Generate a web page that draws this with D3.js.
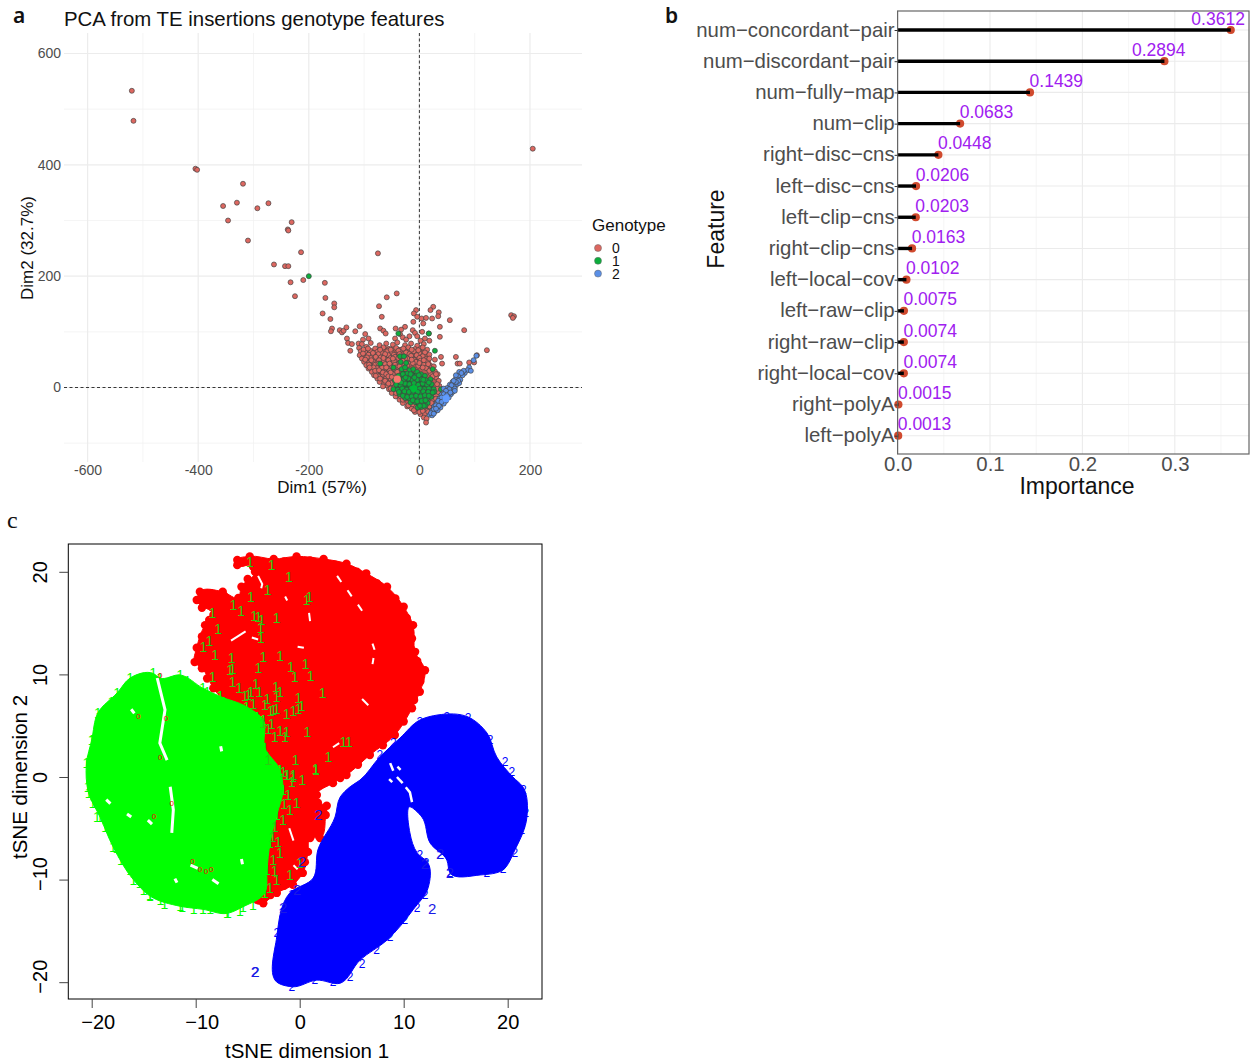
<!DOCTYPE html>
<html>
<head>
<meta charset="utf-8">
<script src="https://cdnjs.cloudflare.com/ajax/libs/d3/7.8.5/d3.min.js"></script>
<style>
body { margin: 0; background: #fff; }
text { font-family: "Liberation Sans", Arial, sans-serif; }
</style>
</head>
<body>
<div id="fig"></div>
<script>
// panel a: points, [dim1, dim2]
var pcaRed = [[-520,533],[-517,479],[-405,393],[-402,391],[-319,366],[-355,326],[-330,332],[-293,322],[-273,331],[-346,300],
[-231,297],[-238,284],[-237,282],[-310,264],[-214,243],[-75,241],[-263,221],[-243,218],[-237,218],[-210,193],[-233,189],
[-171,188],[-225,164],[-170,161],[-59,162],[-41,169],[-154,151],[-154,144],[-73,146],[-175,133],[-68,127],[-161,123],
[205,429],[166,130],[171,128],[169,125],[-158,106],[-160,101],[-144,103],[-140,99],[-137,102],[-116,101],[-108,110],[-132,108],
[-131,88],[-129,80],[-122,78],[-125,66],[-110,79],[-6,139],[-10,133],[-4,127],[-11,118],[4,124],[25,145],[20,139],[35,135],
[34,128],[23,124],[55,121],[7,115],[12,125],[37,109],[81,103],[17,97],[37,91],[-26,109],[-33,104],[-43,106],[-71,106],[-65,102],
[-61,97],[-98,96],[-92,88],[-102,86],[122,67],[104,58],[90,45],[66,55],[39,55],[41,43],[28,50],[69,43],[73,43],[99,45],
[-35,96],[-30,90],[-12,103],[-8,98],[-18,92],[-4,92],[5,100],[10,88],[-24,86],[2,84],[18,84],[-44,88],
[-104,78],[-88,80],[-72,76],[-60,79],[-48,77],[-40,81],[-26,76],[-15,79],[-4,75],[8,78],
[-109,71],[-96,73],[-80,70],[-65,72],[-55,69],[-42,71],[-33,68],[-20,72],[-8,69],[3,71],[14,68],
[-106,65],[-98,63],[-89,66],[-76,64],[-68,62],[-58,65],[-50,63],[-38,66],[-24,63],[-18,60],[-10,65],[0,62],[10,63],
[-108,58],[-100,56],[-92,59],[-84,57],[-74,60],[-64,56],[-56,58],[-46,59],[-15,57],[-5,58],[6,56],[18,59],
[-104,52],[-96,50],[-88,53],[-80,51],[-70,54],[-60,50],[-52,53],[-42,50],[-22,52],[-10,50],[0,53],[12,51],
[-100,46],[-92,44],[-84,47],[-76,45],[-66,48],[-56,44],[-46,47],[-36,44],[-26,46],[-16,43],[-6,46],[4,44],[14,47],
[-96,40],[-88,38],[-80,41],[-70,39],[-62,42],[-52,38],[-44,41],[-32,39],[-22,40],[-2,39],[8,41],[22,38],
[-92,34],[-84,32],[-76,35],[-66,33],[-58,36],[-48,32],[-38,33],[12,35],[24,32],[16,42],
[-86,28],[-78,26],[-70,29],[-62,27],[-54,30],[-44,26],[28,29],[20,26],[33,24],
[-82,22],[-74,20],[-66,23],[-58,21],[-48,24],[-53,16],[30,18],[35,12],[24,20],
[-76,16],[-68,14],[-60,17],[-44,18],[-50,8],[-64,8],[-72,10],[-58,3],[-55,-3],[-50,-10],[-43,-16],[-38,-6],[-46,0],
[-36,-22],[-30,-28],[-26,-20],[-22,-34],[-14,-38],[-6,-35],[2,-41],[10,-36],[18,-34],[14,-42],[-12,-30],[-8,-44],[2,-48],
[10,-47],[16,-44],[8,-54],[13,-56],[12,-63],[30,-14],[36,3],[34,-8],[24,-22],[28,-30],
[-101,68],[-93,70],[-84,62],[-71,68],[-62,60],[-52,68],[-44,55],[-36,60],[-29,70],[-14,68],[-2,67],[6,72],[-102,61],[-95,54],
[-87,49],[-79,55],[-73,49],[-65,53],[-56,49],[-48,52],[-38,53],[-30,55],[-26,52],[-12,44],[2,48],[8,49],[18,52],[-98,50],
[-91,41],[-83,36],[-74,43],[-68,36],[-60,36],[-54,43],[-42,36],[-36,38],[-27,43],[-90,36],[-80,30],[-73,31],[-66,27],[-60,24],
[-52,27],[-46,34],[-40,28],[-79,21],[-71,16],[-62,12],[-56,20],[-50,19],[-44,11],[-66,2],[-56,7],[-52,-2],[-42,-10],[-34,-16],
[-30,-22],[-20,-32],[-10,-41],[0,-44],[6,-42],[22,-28],[30,-20],[33,-2],[32,6],[30,24],[26,38],[18,30],[6,36],[0,44],[-14,50],[-30,48]];

var pcaGreen = [[-200,200],[-38,97],[17,97],[28,66],[-35,56],[-28,56],[-34,46],[-71,43],[-47,36],[24,33],[39,-3],[-24,44],
[-32,33],[-26,36],[-18,31],[-11,33],[-4,28],[-22,25],[-30,24],[-38,21],[-14,22],[-6,20],[3,24],[10,21],[-44,13],
[-36,12],[-28,15],[-20,16],[-12,13],[-4,14],[4,15],[12,13],[20,15],[-42,5],[-34,4],[-26,7],[-18,6],[-10,8],[-2,5],
[6,7],[14,5],[22,6],[-47,-3],[-39,-4],[-31,-2],[-23,-4],[-15,-1],[-7,-4],[1,-2],[9,-3],[17,-2],[26,-3],
[-36,-12],[-28,-11],[-20,-13],[-12,-10],[-4,-12],[4,-10],[12,-12],[20,-11],[27,-8],
[-26,-19],[-18,-20],[-10,-18],[-2,-21],[6,-19],[14,-20],[21,-17],[-16,-27],[-8,-26],[0,-29],[8,-27],[15,-28],
[-3,-36],[4,-35],[11,-33],[-40,16],[-33,9],[-25,18],[-16,24],[-9,18],[-1,22],[7,14],[17,9],[-37,-8],[-27,-7],[-19,-8],[-11,-6],
[-3,-8],[7,-7],[16,-8],[24,-9],[-30,-15],[-22,-17],[-14,-16],[-6,-15],[2,-16],[10,-14],[17,-15],[-12,-23],[-4,-25],[4,-24],[11,-23],[8,-33],[1,-33]];

var pcaBlue = [[103,57],[98,49],[90,36],[87,31],[82,26],[93,30],[72,28],[78,22],[70,20],[74,14],[66,16],[60,10],[68,6],
[62,2],[55,5],[50,-1],[58,-4],[64,-2],[45,-7],[52,-10],[57,-12],[40,-13],[47,-16],[53,-18],[36,-20],[42,-23],[48,-24],
[32,-28],[38,-30],[44,-29],[27,-34],[33,-36],[38,-36],[23,-42],[28,-43],[33,-41],[19,-49],[23,-50],[60,-8],[44,-2],[72,8],[66,22],
[80,30],[76,26],[70,12],[66,10],[62,12],[58,4],[54,-3],[48,-6],[44,-12],[50,-14],[40,-18],[46,-21],[34,-24],[40,-26],[30,-32],[35,-33],
[26,-39],[30,-38],[21,-46],[26,-47],[64,-6],[56,-9]];

var pcaRedBody = [[-108,66],[-60,74],[-20,72],[14,66],[22,44],[32,28],[36,8],[32,-14],[18,-46],[6,-50],[-12,-40],[-40,-16],[-68,12],[-100,46]];
var pcaGreenBody = [[-44,13],[-32,30],[-11,28],[20,13],[26,-4],[13,-32],[-2,-34],[-17,-26],[-45,-4]];
var pcaBlueBody = [[19,-48],[28,-45],[44,-26],[62,-6],[76,14],[72,22],[58,8],[42,-10],[30,-28]];
var pcaCentroids = [[-40,15],[-10,-2],[48,-20]];
var pcaXTicks = [-600, -400, -200, 0, 200];
var pcaYTicks = [0, 200, 400, 600];
var pcaXMinor = [-500, -300, -100, 100];
var pcaYMinor = [-100, 100, 300, 500];
var genotypes = ["0", "1", "2"];

// panel b: feature importance
var features = ["num\u2212concordant\u2212pair", "num\u2212discordant\u2212pair", "num\u2212fully\u2212map", "num\u2212clip",
  "right\u2212disc\u2212cns", "left\u2212disc\u2212cns", "left\u2212clip\u2212cns", "right\u2212clip\u2212cns",
  "left\u2212local\u2212cov", "left\u2212raw\u2212clip", "right\u2212raw\u2212clip", "right\u2212local\u2212cov",
  "right\u2212polyA", "left\u2212polyA"];
var importance = [0.3612, 0.2894, 0.1439, 0.0683, 0.0448, 0.0206, 0.0203, 0.0163, 0.0102, 0.0075, 0.0074, 0.0074, 0.0015, 0.0013];
var impTicks = [0, 0.1, 0.2, 0.3];
var impMinor = [0.05, 0.15, 0.25, 0.35];

// panel c: outlines of the tSNE clouds and the glyphs that stand out of them
var redOutline = [[-6,21.15],[-4.8,21.5],[-2.5,21.25],[-0.3,21.5],[2.3,21.25],[4.5,20.8],[6.4,19.85],[8.4,18.55],[10,16.6],
[10.9,14.8],[11.1,12.2],[12.05,10.4],[11.55,8.3],[10.8,6.7],[9.15,4.1],[6.75,2.15],[4.5,0.2],[3.2,-0.6],[1.65,-1.75],[1.75,-2.5],
[2.6,-2.8],[2.5,-3.7],[1.95,-5.95],[1,-5.95],[0.8,-7.3],[0.3,-9.35],[-0.65,-10.5],[-2.2,-11.3],[-3.5,-12.3],[-6.7,-5.2],[-5.7,5.55],
[-8.3,8.65],[-9.4,10.6],[-10.1,11.2],[-9.9,12.6],[-9.1,14.8],[-8.3,15.8],[-9.9,17.25],[-9.6,18.05],[-7.4,18.05],[-5.9,17.45],
[-5.6,18.55],[-4.3,20],[-4.5,20.55],[-6,20.65]];
var redEdge = [[-5.5,20.9],[-1.5,21],[1,21.1],[3.4,20.7],[5.5,20],[7.4,18.9],[9.2,17.4],[10.3,15.5],[10.8,13.5],[11.3,11.3],[11.6,9.3],
[11,7.5],[10,5.4],[8,3.1],[5.6,1.2],[-7.3,17.7],[-8.5,17.9],[-5,19.3],[-9.4,16.5],[-9.4,13.7],[-8.7,15.3],[-8.9,9.6],[-7.5,8.7],[3.9,-0.1],
[0.5,-8.3],[-1.5,-10.6],[-2.8,-11.5],[1.9,-4.8],[2.2,-3.2]];
var redGaps = [[[-6.6,13.3],[-5.2,14.2]],[[-4,19.6],[-3.6,18.8],[-3.7,18.4]],[[3.6,19.6],[4,19]],[[4.6,18.2],[5,17.6]],[[5.6,16.8],[6,16.2]],
[[7,13],[7.2,12.4]],[[7.1,11.6],[7,11]],[[0.9,16],[1,15.2]],[[-1.4,17.6],[-1.2,17.2]],[[-0.2,12.7],[0.4,12.6]],[[6,7.6],[6.6,7]],[[3.2,2.9],[3.8,3.3]],
[[-4.6,13.6],[-4,13.4]],[[-1,-5],[-0.6,-6.2]],[[-0.6,-8.6],[-0.2,-9]]];

var greenOutline = [[-16.3,9.65],[-14.1,10.1],[-13.45,9.65],[-11.5,9.95],[-9.3,8.65],[-7.65,7.85],[-5.1,6.85],[-3.5,5.55],[-3.35,2.85],
[-1.9,0.7],[-1.6,-1.25],[-2.2,-3.7],[-2.85,-6.45],[-3.15,-9.05],[-3.35,-11.3],[-5.45,-12.65],[-7,-13.3],[-9.3,-12.9],[-11.5,-12.6],
[-14.4,-11.6],[-16,-10],[-17.95,-6.8],[-19.2,-3.9],[-20.3,-1.55],[-20.5,1.35],[-20,3.6],[-19.4,6.25],[-17.55,8.2]];
var greenEdge = [[-17.6,-6.9],[-17.2,-8.1],[-16.3,-9.1],[-15.4,-10.3],[-14.4,-11.5],[-13,-12.4],[-11.3,-12.7],[-10.2,-12.9],[-8.6,-12.9],[-6.9,-13.3],
[-5.75,-13.1],[-4.5,-12.5],[-20.4,-1],[-19.9,-2.55],[-19.5,-3.9],[-18.7,-4.9],[-15,-11],[-13.4,-12],[-20.2,1.65],[-19.9,3.6],[-19.3,5.85],
[-18.1,7.3],[-16.1,9.3],[-15,9.4],[-12.4,9.3],[-10.8,9.4],[-8.9,8.3],[-7.3,7.3],[-5.7,6.6],[-4.1,5.85]];
var greenGaps = [[[-13.7,9.65],[-13.2,7.6],[-12.95,6.55],[-13.45,3.3],[-12.75,1.65]],[[-12.45,-0.95],[-12.15,-3.2],[-12.3,-5.45]],
[[-14.6,-4.2],[-14.2,-4.6]],[[-10.5,-8.6],[-9.8,-8.9]],[[-8.4,-10],[-7.8,-10.4]],[[-18.6,-2.2],[-18.2,-2.6]],[[-16.2,6.6],[-15.9,6.2]],
[[-7.6,3],[-7.5,2.5]],[[-16.6,-3.6],[-16.2,-3.9]],[[-12,-9.9],[-11.8,-10.3]],[[-5.6,-8],[-5.5,-8.5]]];
var redOnGreen = [[-10.3,-8.2],[-9.6,-9],[-9,-9.2],[-8.5,-9],[-13.4,1.9],[-12.3,-2.5],[-14,-3.8],[-12.85,5.7],[-15.5,5.9],[-13.4,9.9]];

var blueOutline = [[-2.05,-20.1],[-2.2,-15.55],[-0.95,-11.3],[1.3,-9.85],[1.75,-7.1],[3.4,-3.9],[3.9,-1.95],[4.85,-0.95],[5.8,-0.3],[7.7,1.95],
[9.65,3.8],[11.55,5.55],[13.3,6.05],[16.2,5.85],[18,4.3],[18.95,1.95],[20.5,0],[21.45,-0.95],[21.85,-3.9],[20.7,-7.1],[19.55,-9.05],
[17.35,-9.55],[14.45,-9.35],[14.15,-8.1],[12.55,-6.45],[11.75,-3.9],[10.6,-2.9],[10.6,-5.45],[11.3,-7.4],[12.35,-8.4],[12.35,-10.8],
[10.9,-12.95],[8.4,-15.9],[5.8,-17.85],[3.9,-20.1],[1.65,-19.8],[-0.65,-20.45]];
var blueEdge = [[12.05,-11.5],[11.3,-12.75],[10.1,-13.95],[8.7,-15.6],[7.4,-16.85],[6,-18.15],[4.85,-19.5],[3.2,-20],[1.45,-19.8],[-0.75,-20.4],[-2.1,-19.5],
[-2.2,-17.15],[-2.2,-15.2],[-1.7,-13.25],[-0.75,-11.5],[19.75,1.45],[20.4,0.5],[21.5,-1.25],[21.75,-3.5],[21.35,-5.15],[20.7,-7.4],[19.55,-8.9],
[18,-9.35],[16.1,-9.25],[14.45,-9.35],[13.5,-7.6],[12.15,-8.4],[11.55,-7.6],[18.3,3.6],[16.2,5.75],[14.15,5.85],[11.55,5.35],[9,3.3],[7.7,2.15]];
var blueGaps = [[[8.7,1.35],[9,0.6]],[[9.35,0],[9.9,-0.6]],[[10.2,-1],[10.6,-1.5],[10.8,-2.45]],[[9.4,1],[9.7,0.7]],[[8.6,-0.2],[8.9,-0.5]]];

var greenOnRed = [[-4.78,20.92],[-2.7,20.66],[-1.03,19.46],[-3.08,18.22],[-4.68,17.57],[-6.38,16.76],[-5.64,16.18],[-8.4,15.95],[-4.39,15.72],
[-3.98,15.62],[-3.66,15.3],[-2.22,15.53],[0.67,17.25],[0.93,17.57],[-7.83,14.42],[-3.75,14.49],[-3.72,13.51],[-8.69,13.25],[-9.27,12.7],
[-8.14,11.89],[-6.54,11.56],[-3.5,11.73],[-1.89,11.82],[0.57,11.01],[-0.84,10.69],[-3.98,10.65],[-6.7,10.43],[-6.45,10.52],[-8.37,9.78],
[-0.45,9.71],[1.05,9.87],[-6.45,9.29],[-4.2,9.06],[-5.81,8.7],[-2.28,8.8],[-3.88,8.25],[-4.68,8.31],[-5.26,7.92],[-4.94,7.99],[-1.89,8.25],
[-2.22,7.83],[2.21,8.22],[-0.13,7.66],[-3.11,7.6],[-4.46,7.11],[-3.34,7.02],[-2.79,6.46],[-2.54,6.53],[-2.22,6.63],[0.19,6.95],[-0.13,6.63],
[-0.61,6.43],[-1.25,6.17],[-3.5,5.23],[-2.7,5.13],[-3.02,4.68],[-1.89,4.51],[-1.25,4.42],[0.73,4.42],[-2.38,3.93],[-1.41,3.93],[4.2,3.38],
[4.74,3.44],[2.75,1.98],[-0.39,1.65],[-3.02,1.65],[1.53,0.78],[-0.61,0.19],[-1.19,0.19],[0.25,-0.3],[-1.57,0.52],[1.56,0.68],[-0.3,-2.56],
[-0.75,-0.45],[-0.62,0.04],[-1.26,0.2],[-1.1,-1.75],[-0.94,-3.21],[-1.58,-4.19],[-2.38,-4.84],[-2.06,-6.3],[-2.54,-8.09],[-0.94,-9.55],
[-2.22,-10.04],[-2.86,-10.85],[0,-8.41],[-1.5,-2.6],[-2.6,-5.8],[-1.9,-7.4],[-2.4,-9.2]];
var blueLabels = [[1.79,-3.7],[0.25,-8.25],[12.73,-12.87],[-4.3,-19],[-4.26,-19],[12.05,-8.4],[13.5,-7.5],[14.45,-9.35],[-1.6,-12.75],[-0.25,-11]];
var tsneTicks = [-20, -10, 0, 10, 20];

var svg = d3.select("#fig").append("svg")
    .attr("width", 1250)
    .attr("height", 1063);

// ---- panel a ----
var ax = d3.scaleLinear().domain([-600, 200]).range([87.6, 530]);
var ay = d3.scaleLinear().domain([0, 600]).range([387.5, 53.5]);
var aLeft = 64, aRight = 582, aTop = 33, aBottom = 462;
var a = svg.append("g");

a.selectAll(".minx").data(pcaXMinor).enter().append("line")
    .attr("x1", ax).attr("x2", ax).attr("y1", aTop).attr("y2", aBottom)
    .attr("stroke", "#f0f0f0").attr("stroke-width", 0.7);
a.selectAll(".miny").data(pcaYMinor).enter().append("line")
    .attr("y1", ay).attr("y2", ay).attr("x1", aLeft).attr("x2", aRight)
    .attr("stroke", "#f0f0f0").attr("stroke-width", 0.7);
a.selectAll(".majx").data(pcaXTicks).enter().append("line")
    .attr("x1", ax).attr("x2", ax).attr("y1", aTop).attr("y2", aBottom)
    .attr("stroke", "#ececec").attr("stroke-width", 1.2);
a.selectAll(".majy").data(pcaYTicks).enter().append("line")
    .attr("y1", ay).attr("y2", ay).attr("x1", aLeft).attr("x2", aRight)
    .attr("stroke", "#ececec").attr("stroke-width", 1.2);

a.append("line").attr("x1", ax(0)).attr("x2", ax(0)).attr("y1", aTop).attr("y2", aBottom)
    .attr("stroke", "#222").attr("stroke-width", 0.9).attr("stroke-dasharray", "3,2.5");
a.append("line").attr("y1", ay(0)).attr("y2", ay(0)).attr("x1", aLeft).attr("x2", aRight)
    .attr("stroke", "#222").attr("stroke-width", 0.9).attr("stroke-dasharray", "3,2.5");

var aXAxis = a.append("g").attr("transform", "translate(0," + aBottom + ")")
    .call(d3.axisBottom(ax).tickValues(pcaXTicks).tickSize(0).tickPadding(3).tickFormat(function(d) { return String(d); }));
var aYAxis = a.append("g").attr("transform", "translate(" + aLeft + ",0)")
    .call(d3.axisLeft(ay).tickValues(pcaYTicks).tickSize(0).tickPadding(3).tickFormat(function(d) { return String(d); }));
[aXAxis, aYAxis].forEach(function(g) {
  g.select(".domain").remove();
  g.selectAll("text").style("font-size", "14px").style("font-family", "Liberation Sans").attr("fill", "#4d4d4d");
});

var aBody = d3.line()
    .x(function(d) { return ax(d[0]); })
    .y(function(d) { return ay(d[1]); });
function drawBody(pts, fill) {
  a.append("path").attr("d", aBody(pts) + "Z").attr("fill", fill);
}
function drawPoints(pts, fill) {
  a.append("g").selectAll("circle").data(pts).enter().append("circle")
      .attr("cx", function(d) { return ax(d[0]); })
      .attr("cy", function(d) { return ay(d[1]); })
      .attr("r", 2.5)
      .attr("fill", fill)
      .attr("stroke", "#444")
      .attr("stroke-width", 0.7);
}
var pcaColors = ["#dd6760", "#0cad3c", "#5a8fe6"];
drawBody(pcaRedBody, "#b9574f");
drawPoints(pcaRed, pcaColors[0]);
drawBody(pcaGreenBody, "#087f2c");
drawPoints(pcaGreen, pcaColors[1]);
drawBody(pcaBlueBody, "#2f5eb0");
drawPoints(pcaBlue, pcaColors[2]);
a.append("g").selectAll("circle").data(pcaCentroids).enter().append("circle")
    .attr("cx", function(d) { return ax(d[0]); })
    .attr("cy", function(d) { return ay(d[1]); })
    .attr("r", 3.6)
    .attr("fill", function(d, i) { return ["#f8766d", "#00ba38", "#619cff"][i]; });

a.append("text").attr("x", 64).attr("y", 26).style("font-size", "20.4px").attr("fill", "#111")
    .text("PCA from TE insertions genotype features");
a.append("text").attr("x", 322).attr("y", 493).attr("text-anchor", "middle").style("font-size", "17px").attr("fill", "#111")
    .text("Dim1 (57%)");
a.append("text").attr("transform", "translate(33,248) rotate(-90)").attr("text-anchor", "middle")
    .style("font-size", "17px").attr("fill", "#111").text("Dim2 (32.7%)");

a.append("text").attr("x", 592).attr("y", 231).style("font-size", "17px").attr("fill", "#111").text("Genotype");
var legend = a.selectAll(".legend").data(genotypes).enter().append("g")
    .attr("class", "legend")
    .attr("transform", function(d, i) { return "translate(598," + (248 + i * 12.8) + ")"; });
legend.append("circle").attr("r", 3.5).attr("fill", function(d, i) { return pcaColors[i]; })
    .attr("stroke", "#666").attr("stroke-width", 0.5);
legend.append("text").attr("x", 14).attr("y", 5).style("font-size", "14px").attr("fill", "#111")
    .text(function(d) { return d; });

a.append("text").attr("x", 13).attr("y", 23).style("font-size", "21px").style("font-family", "Noto Sans").style("font-weight", 600).attr("fill", "#111").text("a");
svg.append("text").attr("x", 665).attr("y", 23).style("font-size", "21px").style("font-family", "Noto Sans").style("font-weight", 600).attr("fill", "#111").text("b");
svg.append("text").attr("x", 7).attr("y", 528).style("font-size", "24px").style("font-family", "Liberation Serif").attr("fill", "#111").text("c");

// ---- panel b ----
var bx = d3.scaleLinear().domain([0, 0.3803]).range([897.6, 1249]);
var by = d3.scalePoint().domain(features).range([30, 435.7]);
var bTop = 11, bBottom = 454;
var b = svg.append("g");

b.selectAll(".bminor").data(impMinor).enter().append("line")
    .attr("x1", bx).attr("x2", bx).attr("y1", bTop).attr("y2", bBottom)
    .attr("stroke", "#f2f2f2").attr("stroke-width", 0.7);
b.selectAll(".bmajor").data(impTicks).enter().append("line")
    .attr("x1", bx).attr("x2", bx).attr("y1", bTop).attr("y2", bBottom)
    .attr("stroke", "#ebebeb").attr("stroke-width", 1.1);
b.selectAll(".brow").data(features).enter().append("line")
    .attr("x1", 897.6).attr("x2", 1249)
    .attr("y1", function(d) { return by(d); }).attr("y2", function(d) { return by(d); })
    .attr("stroke", "#ebebeb").attr("stroke-width", 1.1);

b.selectAll(".dot").data(importance).enter().append("circle")
    .attr("cx", function(d) { return bx(d) - 0.6; })
    .attr("cy", function(d, i) { return by(features[i]); })
    .attr("r", 4.1)
    .attr("fill", "#d04a2e");
b.selectAll(".seg").data(importance).enter().append("line")
    .attr("x1", bx(0))
    .attr("x2", function(d) { return bx(d) - 0.6; })
    .attr("y1", function(d, i) { return by(features[i]); })
    .attr("y2", function(d, i) { return by(features[i]); })
    .attr("stroke", "#000")
    .attr("stroke-width", 3.4);
b.selectAll(".val").data(importance).enter().append("text")
    .attr("x", function(d, i) { return bx(d) + (i == 0 ? -40 : i == 1 ? -33 : -1); })
    .attr("y", function(d, i) { return by(features[i]) - 5.5; })
    .style("font-size", "17.5px")
    .attr("fill", "#a020f0")
    .text(function(d) { return d3.format(".4f")(d); });

b.append("rect").attr("x", 897.6).attr("y", bTop).attr("width", 351.4).attr("height", bBottom - bTop)
    .attr("fill", "none").attr("stroke", "#666").attr("stroke-width", 1.2);

var bXAxis = b.append("g").attr("transform", "translate(0," + bBottom + ")")
    .call(d3.axisBottom(bx).tickValues(impTicks).tickSize(0).tickPadding(3).tickFormat(d3.format(".1f")));
var bYAxis = b.append("g").attr("transform", "translate(897.6,0)")
    .call(d3.axisLeft(by).tickSize(3).tickPadding(0));
[bXAxis, bYAxis].forEach(function(g) {
  g.select(".domain").remove();
  g.selectAll("text").style("font-size", "20.4px").style("font-family", "Liberation Sans").attr("fill", "#4d4d4d");
  g.selectAll("line").attr("stroke", "#333");
});
bYAxis.selectAll("text").attr("dy", "0.3em");
b.append("text").attr("x", 1077).attr("y", 494).attr("text-anchor", "middle").style("font-size", "23px").attr("fill", "#111")
    .text("Importance");
b.append("text").attr("transform", "translate(724,229) rotate(-90)").attr("text-anchor", "middle")
    .style("font-size", "23px").attr("fill", "#111").text("Feature");

// ---- panel c ----
var cx = d3.scaleLinear().domain([-22.25, 23.3]).range([68.3, 542]);
var cy = d3.scaleLinear().domain([-21.64, 22.71]).range([999, 544]);
var c = svg.append("g");
var outline = d3.line()
    .x(function(d) { return cx(d[0]); })
    .y(function(d) { return cy(d[1]); });
var smooth = d3.line()
    .curve(d3.curveCatmullRomClosed.alpha(1))
    .x(function(d) { return cx(d[0]); })
    .y(function(d) { return cy(d[1]); });

function drawCloud(pts, color) {
  c.append("path").attr("d", smooth(pts)).attr("fill", color).attr("stroke", color).attr("stroke-width", 1);
}
function drawGaps(list, w) {
  c.append("g").selectAll("path").data(list).enter().append("path")
      .attr("d", outline).attr("fill", "none").attr("stroke", "#fff").attr("stroke-width", w);
}
function drawGlyphs(pts, glyph, color, size) {
  c.append("g").selectAll("text").data(pts).enter().append("text")
      .attr("x", function(d) { return cx(d[0]); })
      .attr("y", function(d) { return cy(d[1]) + size * 0.36; })
      .attr("text-anchor", "middle")
      .style("font-size", size + "px")
      .attr("fill", color)
      .text(glyph);
}

drawCloud(redOutline, "#ff0000");
c.append("g").selectAll("circle").data(redOutline.concat(redEdge)).enter().append("circle")
    .attr("cx", function(d) { return cx(d[0]); })
    .attr("cy", function(d) { return cy(d[1]); })
    .attr("r", 4.2)
    .attr("fill", "#ff0000");
drawGaps(redGaps, 2);
drawCloud(greenOutline, "#00ff00");
drawGlyphs(greenOutline, "1", "#00ff00", 14);
drawGlyphs(greenEdge, "1", "#00ff00", 14);
drawGaps(greenGaps, 3);
drawGlyphs(redOnGreen, "0", "#ff0000", 8);
drawCloud(blueOutline, "#0000ff");
drawGlyphs(blueEdge, "2", "#0000ff", 12);
drawGaps(blueGaps, 2.5);
drawGlyphs(greenOnRed, "1", "#2ccc10", 14);
drawGlyphs(blueLabels, "2", "#1a1ae6", 15);

c.append("rect").attr("x", 68.3).attr("y", 544).attr("width", 473.7).attr("height", 455)
    .attr("fill", "none").attr("stroke", "#000").attr("stroke-width", 1);

var cXAxis = c.append("g").attr("transform", "translate(0,999)")
    .call(d3.axisBottom(cx).tickValues(tsneTicks).tickSize(9).tickPadding(7));
var cYAxis = c.append("g").attr("transform", "translate(68.3,0)")
    .call(d3.axisLeft(cy).tickValues(tsneTicks).tickSize(9).tickPadding(5));
[cXAxis, cYAxis].forEach(function(g) {
  g.select(".domain").remove();
  g.selectAll("text").style("font-size", "20px").style("font-family", "Liberation Sans").attr("fill", "#000");
  g.selectAll("line").attr("stroke", "#444");
});
// negative labels sit a little off their ticks in the original
cXAxis.selectAll("text").attr("dx", function(d) { return d < 0 ? 6 : 0; });
cYAxis.selectAll("text")
    .attr("text-anchor", "middle").attr("dy", 0).attr("x", 0)
    .attr("dx", function(d) { return d < 0 ? 6 : 0; })
    .attr("transform", "translate(-21,0) rotate(-90)");

c.append("text").attr("x", 307).attr("y", 1058).attr("text-anchor", "middle").style("font-size", "20.5px").attr("fill", "#000")
    .text("tSNE dimension 1");
c.append("text").attr("transform", "translate(27,777) rotate(-90)").attr("text-anchor", "middle")
    .style("font-size", "20.5px").attr("fill", "#000").text("tSNE dimension 2");
</script>
</body>
</html>
